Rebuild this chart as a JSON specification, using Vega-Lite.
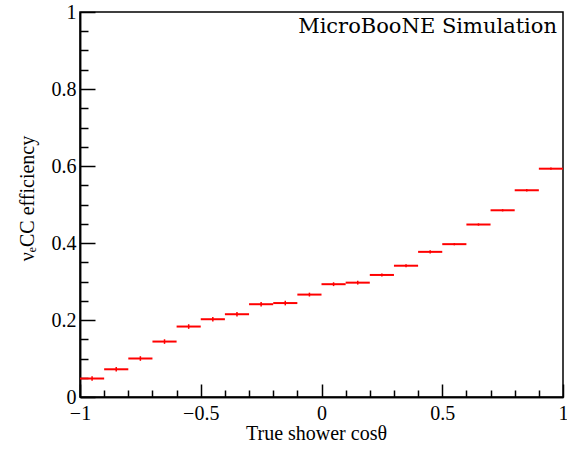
{
  "$schema": "https://vega.github.io/schema/vega-lite/v6.json",
  "width": 483,
  "height": 385,
  "autosize": "none",
  "padding": {"left": 80, "top": 12, "right": 4, "bottom": 52},
  "background": "white",
  "config": {
    "view": {"stroke": "black", "strokeWidth": 1.5},
    "font": "Liberation Serif",
    "axis": {
      "zindex": 1,
      "grid": false,
      "tickColor": "black",
      "tickWidth": 1.5,
      "domainColor": "black",
      "domainWidth": 1.5,
      "labelFont": "Liberation Serif",
      "labelFontSize": 20,
      "labelColor": "black",
      "labelFlush": false,
      "labelOverlap": false,
      "titleFont": "Liberation Serif",
      "titleFontSize": 20,
      "titleFontWeight": "normal",
      "titleColor": "black"
    }
  },
  "resolve": {"axis": {"x": "independent", "y": "independent"}},
  "data": {
    "values": [
      {"lo": -1.0, "hi": -0.9, "c": -0.95, "eff": 0.048, "elo": 0.042, "ehi": 0.054},
      {"lo": -0.9, "hi": -0.8, "c": -0.85, "eff": 0.072, "elo": 0.066, "ehi": 0.078},
      {"lo": -0.8, "hi": -0.7, "c": -0.75, "eff": 0.1, "elo": 0.094, "ehi": 0.106},
      {"lo": -0.7, "hi": -0.6, "c": -0.65, "eff": 0.144, "elo": 0.138, "ehi": 0.15},
      {"lo": -0.6, "hi": -0.5, "c": -0.55, "eff": 0.183, "elo": 0.177, "ehi": 0.189},
      {"lo": -0.5, "hi": -0.4, "c": -0.45, "eff": 0.202, "elo": 0.196, "ehi": 0.208},
      {"lo": -0.4, "hi": -0.3, "c": -0.35, "eff": 0.215, "elo": 0.209, "ehi": 0.221},
      {"lo": -0.3, "hi": -0.2, "c": -0.25, "eff": 0.241, "elo": 0.235, "ehi": 0.247},
      {"lo": -0.2, "hi": -0.1, "c": -0.15, "eff": 0.244, "elo": 0.238, "ehi": 0.25},
      {"lo": -0.1, "hi": 0.0, "c": -0.05, "eff": 0.266, "elo": 0.261, "ehi": 0.271},
      {"lo": 0.0, "hi": 0.1, "c": 0.05, "eff": 0.293, "elo": 0.288, "ehi": 0.298},
      {"lo": 0.1, "hi": 0.2, "c": 0.15, "eff": 0.297, "elo": 0.292, "ehi": 0.302},
      {"lo": 0.2, "hi": 0.3, "c": 0.25, "eff": 0.317, "elo": 0.313, "ehi": 0.321},
      {"lo": 0.3, "hi": 0.4, "c": 0.35, "eff": 0.341, "elo": 0.337, "ehi": 0.345},
      {"lo": 0.4, "hi": 0.5, "c": 0.45, "eff": 0.377, "elo": 0.373, "ehi": 0.381},
      {"lo": 0.5, "hi": 0.6, "c": 0.55, "eff": 0.397, "elo": 0.394, "ehi": 0.4},
      {"lo": 0.6, "hi": 0.7, "c": 0.65, "eff": 0.448, "elo": 0.445, "ehi": 0.451},
      {"lo": 0.7, "hi": 0.8, "c": 0.75, "eff": 0.485, "elo": 0.482, "ehi": 0.488},
      {"lo": 0.8, "hi": 0.9, "c": 0.85, "eff": 0.537, "elo": 0.534, "ehi": 0.54},
      {"lo": 0.9, "hi": 1.0, "c": 0.95, "eff": 0.593, "elo": 0.59, "ehi": 0.596}
    ]
  },
  "layer": [
    {
      "mark": {"type": "rule", "color": "#ff0000", "strokeWidth": 1.5},
      "encoding": {
        "x": {
          "field": "c", "type": "quantitative",
          "scale": {"domain": [-1, 1], "nice": false, "zero": false},
          "axis": {
            "orient": "bottom",
            "values": [-0.9, -0.8, -0.7, -0.6, -0.4, -0.3, -0.2, -0.1, 0.1, 0.2, 0.3, 0.4, 0.6, 0.7, 0.8, 0.9],
            "labels": false,
            "tickSize": -7,
            "title": null
          }
        },
        "y": {
          "field": "elo", "type": "quantitative",
          "scale": {"domain": [0, 1], "nice": false},
          "axis": {
            "orient": "left",
            "values": [0.05, 0.1, 0.15, 0.25, 0.3, 0.35, 0.45, 0.5, 0.55, 0.65, 0.7, 0.75, 0.85, 0.9, 0.95],
            "labels": false,
            "tickSize": -8,
            "title": null
          }
        },
        "y2": {"field": "ehi"}
      }
    },
    {
      "mark": {"type": "rule", "color": "#ff0000", "strokeWidth": 2},
      "encoding": {
        "x": {
          "field": "lo", "type": "quantitative",
          "scale": {"domain": [-1, 1], "nice": false, "zero": false},
          "axis": {
            "orient": "bottom",
            "values": [-1, -0.5, 0, 0.5, 1],
            "labelExpr": "datum.value < 0 ? '\u2212' + format(-datum.value, '') : format(datum.value, '')",
            "tickSize": -13,
            "labelPadding": 19,
            "labelBaseline": "top",
            "title": "True shower cos\u03b8",
            "titleBaseline": "alphabetic",
            "titleAlign": "center",
            "titleAnchor": "start",
            "titleX": 236,
            "titleY": 42
          }
        },
        "x2": {"field": "hi"},
        "y": {
          "field": "eff", "type": "quantitative",
          "scale": {"domain": [0, 1], "nice": false},
          "axis": {
            "orient": "left",
            "values": [0, 0.2, 0.4, 0.6, 0.8, 1],
            "labelExpr": "format(datum.value, '')",
            "tickSize": -15,
            "labelPadding": 19,
            "title": "\u03bd\u2091CC efficiency",
            "titleAngle": -90,
            "titleBaseline": "alphabetic",
            "titleAlign": "center",
            "titleAnchor": "start",
            "titleX": -47,
            "titleY": 186
          }
        }
      }
    },
    {
      "data": {"values": [{"label": "MicroBooNE Simulation", "x": 1, "y": 1}]},
      "mark": {"type": "text", "align": "right", "baseline": "alphabetic", "font": "DejaVu Serif", "fontSize": 21, "dx": -6, "dy": 21, "color": "black"},
      "encoding": {
        "x": {"field": "x", "type": "quantitative", "axis": null},
        "y": {"field": "y", "type": "quantitative", "axis": null},
        "text": {"field": "label"}
      }
    }
  ]
}
